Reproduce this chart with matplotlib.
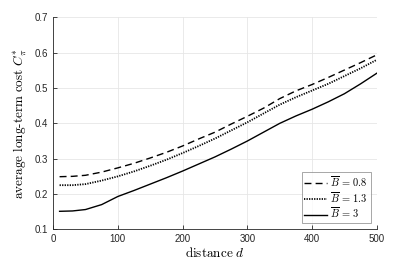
import matplotlib
matplotlib.use('Agg')
import matplotlib.pyplot as plt

# distance grid and average long-term cost per B-bar value
distance = [10, 30, 50, 75, 100, 125, 150, 175, 200, 225, 250, 275,
            300, 325, 350, 375, 400, 425, 450, 475, 500]
cost_b08 = [0.249, 0.250, 0.253, 0.262, 0.274, 0.287, 0.302, 0.318, 0.336, 0.356, 0.375, 0.398,
            0.420, 0.443, 0.470, 0.492, 0.510, 0.530, 0.551, 0.572, 0.594]
cost_b13 = [0.225, 0.225, 0.228, 0.238, 0.250, 0.264, 0.280, 0.297, 0.316, 0.336, 0.357, 0.380,
            0.403, 0.428, 0.453, 0.474, 0.493, 0.512, 0.534, 0.556, 0.580]
cost_b3 = [0.151, 0.152, 0.156, 0.170, 0.193, 0.210, 0.228, 0.246, 0.265, 0.285, 0.305, 0.327,
           0.350, 0.375, 0.400, 0.421, 0.440, 0.461, 0.484, 0.512, 0.542]
labels = [r'$\overline{B}\,=\,0.8$', r'$\overline{B}\,=\,1.3$', r'$\overline{B}\,=\,3$']

plt.rcParams['mathtext.fontset'] = 'cm'
plt.rcParams['font.family'] = ['Liberation Sans', 'DejaVu Sans']
axis_col = '#262626'

fig = plt.figure(figsize=(4.15, 2.6), dpi=100)
ax = fig.add_axes([0.128, 0.118, 0.78, 0.815])

ax.plot(distance, cost_b08, color='black', lw=1.0, linestyle=(0, (5, 3)), label=labels[0])
ax.plot(distance, cost_b13, color='black', lw=1.3, linestyle=(0, (0.7, 0.7)), label=labels[1])
ax.plot(distance, cost_b3, color='black', lw=1.0, linestyle='-', label=labels[2])

ax.set_xlim(0, 500)
ax.set_ylim(0.1, 0.7)
ax.set_xticks([0, 100, 200, 300, 400, 500])
ax.set_yticks([0.1, 0.2, 0.3, 0.4, 0.5, 0.6, 0.7])
ax.set_yticklabels(['0.1', '0.2', '0.3', '0.4', '0.5', '0.6', '0.7'])
ax.tick_params(direction='in', length=3, width=0.6, labelsize=7,
               colors=axis_col, labelcolor=axis_col)
ax.grid(True, color='#e6e6e6', lw=0.6)
ax.set_axisbelow(True)
for s in ['top', 'right']:
    ax.spines[s].set_visible(False)
for s in ['left', 'bottom']:
    ax.spines[s].set_color(axis_col)
    ax.spines[s].set_linewidth(0.6)

ax.set_xlabel(r'$\mathrm{distance}\ d$', fontsize=9.5, labelpad=1)
ax.set_ylabel(r'$\mathrm{average\ long}$' + '-' + r'$\mathrm{term\ cost}\ C_{\pi}^{*}$',
              fontsize=9.5, labelpad=4, family='cmr10')

leg = ax.legend(loc='lower right', fontsize=7.5, frameon=True, fancybox=False,
                edgecolor='#7f7f7f', handlelength=2.2, handletextpad=0.3,
                borderpad=0.25, labelspacing=0.1, borderaxespad=0.6)
leg.get_frame().set_linewidth(0.6)

fig.savefig('out.png', dpi=100)
